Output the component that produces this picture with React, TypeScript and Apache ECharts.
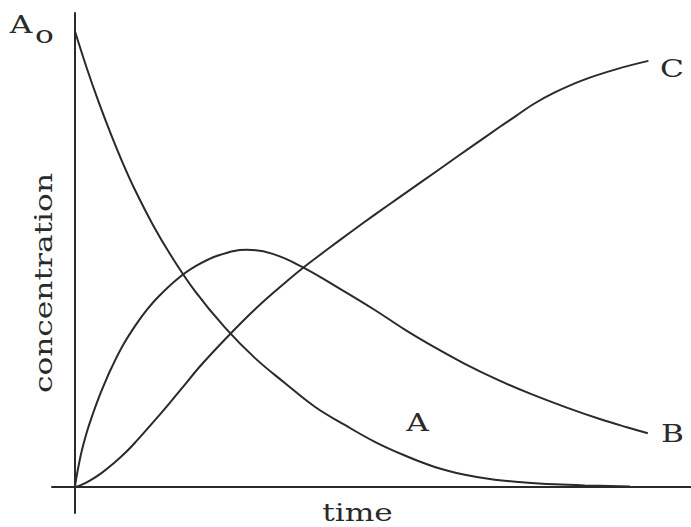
import React, { useEffect, useRef } from "react";
import * as echarts from "echarts";

// Curve A: reactant decaying from Ao
const timeA = [0, 2, 4, 6, 8, 10, 13, 16, 20, 25, 30, 35, 40, 45, 50, 55, 60, 65, 70, 75, 80, 85, 92.5];
const concA = [100, 91.8, 84.3, 77.4, 71, 65.2, 57.5, 50.8, 43, 35, 28.3, 22.8, 17.6, 13.6, 9.9, 6.9, 4.4, 2.7, 1.6, 1.0, 0.6, 0.35, 0.1];

// Curve B: intermediate, rising then falling
const timeB = [0, 1, 2, 3, 4, 5, 6, 8, 10, 12, 14, 17, 20, 24, 28.7, 33, 37.8, 44, 50, 55, 60, 65, 70.8, 76, 82, 87.5, 92, 95.5];
const concB = [0, 7, 12, 16, 19.6, 22.8, 25.8, 31, 35.2, 38.8, 41.8, 45.5, 48.3, 50.8, 52, 51.1, 48.3, 43.6, 38.8, 34.5, 30.6, 27, 23.3, 20.4, 17.4, 14.9, 13.1, 11.8];

// Curve C: product, S-shaped rise
const timeC = [0, 1, 2.5, 4.5, 6.4, 8.5, 10.3, 13, 15.8, 18, 21.1, 25.5, 30, 34, 37.8, 42, 46, 50, 54.2, 58, 62, 66, 70.8, 73.5, 76.4, 80, 84.7, 90.3, 95.6];
const concC = [0, 0.4, 1.4, 3.1, 5.1, 7.6, 10.1, 14.1, 18.4, 21.9, 26.8, 33, 38.9, 43.6, 47.8, 52, 55.9, 59.7, 63.6, 67.1, 70.8, 74.5, 78.9, 81.3, 83.9, 86.5, 89.2, 91.6, 93.4];

const seriesNames = ["A", "B", "C"];
const axisTitleX = "time";
const axisTitleY = "concentration";
const startLabelMain = "A";
const startLabelSub = "o";

const toPairs = (xs: number[], ys: number[]) => xs.map((x, i) => [x, ys[i]]);

const INK = "#2a2a2a";
const FONT = "DejaVu Serif";
const FS = 25;
const WIDEN = 1.25;

export default function App() {
  const ref = useRef<HTMLDivElement>(null);

  useEffect(() => {
    if (!ref.current) return;
    const chart = echarts.init(ref.current, undefined, { renderer: "svg" });
    const textStyle = (text: string) => ({
      text,
      fill: INK,
      fontFamily: FONT,
      fontSize: FS,
      align: "center",
      verticalAlign: "middle",
    });
    const label = (text: string, x: number, y: number, rotation = 0) => ({
      type: "text",
      x,
      y,
      rotation,
      scaleX: WIDEN,
      style: textStyle(text),
    });
    const lineStyle = { color: INK, width: 2 };
    chart.setOption({
      animation: false,
      backgroundColor: "#ffffff",
      grid: { left: 52, right: 0, top: 13, bottom: 14 },
      xAxis: {
        type: "value",
        min: -3.8,
        max: 102.7,
        axisLine: { show: true, onZero: true, lineStyle: { color: INK, width: 2 } },
        axisTick: { show: false },
        axisLabel: { show: false },
        splitLine: { show: false },
      },
      yAxis: {
        type: "value",
        min: -5.7,
        max: 103.9,
        axisLine: { show: true, onZero: true, lineStyle: { color: INK, width: 2 } },
        axisTick: { show: false },
        axisLabel: { show: false },
        splitLine: { show: false },
      },
      series: [
        { name: seriesNames[0], type: "line", data: toPairs(timeA, concA), smooth: 0.4, showSymbol: false, lineStyle },
        { name: seriesNames[1], type: "line", data: toPairs(timeB, concB), smooth: 0.4, showSymbol: false, lineStyle },
        { name: seriesNames[2], type: "line", data: toPairs(timeC, concC), smooth: 0.4, showSymbol: false, lineStyle },
      ],
      graphic: [
        label(startLabelMain, 21, 24.5),
        label(startLabelSub, 44.5, 34.3),
        label(seriesNames[2], 672, 68.5),
        label(seriesNames[1], 672.5, 434),
        label(seriesNames[0], 417.5, 423),
        label(axisTitleX, 357.5, 512.3),
        label(axisTitleY, 43.3, 283, Math.PI / 2),
      ],
    });
    return () => chart.dispose();
  }, []);

  return (
    <div
      ref={ref}
      style={{ position: "fixed", left: 0, top: 0, width: 691, height: 527 }}
    />
  );
}
